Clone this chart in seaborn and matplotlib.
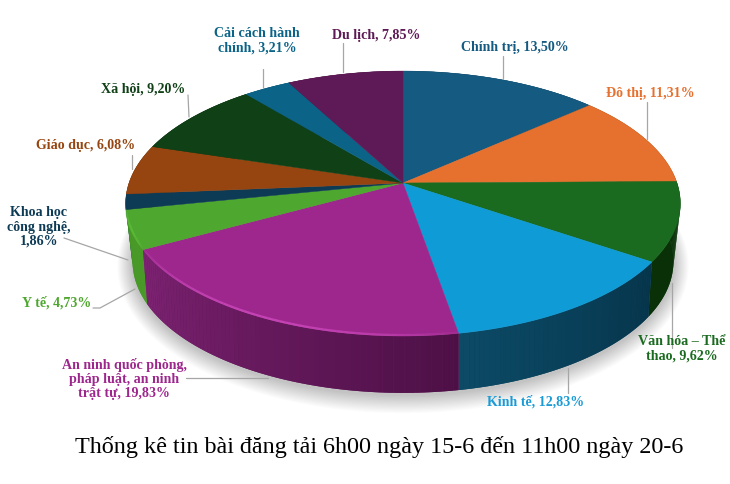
import numpy as np
import matplotlib
matplotlib.use('Agg')
import matplotlib.pyplot as plt
import seaborn as sns

# Data
labels = ['Chính trị, 13,50%', 'Đô thị, 11,31%', 'Văn hóa – Thể\nthao, 9,62%', 'Kinh tế, 12,83%',
          'An ninh quốc phòng,\npháp luật, an ninh\ntrật tự, 19,83%', 'Y tế, 4,73%',
          'Khoa học\ncông nghệ,\n1,86%', 'Giáo dục, 6,08%', 'Xã hội, 9,20%',
          'Cải cách hành\nchính, 3,21%', 'Du lịch, 7,85%']
values = [13.50, 11.31, 9.62, 12.83, 19.83, 4.73, 1.86, 6.08, 9.20, 3.21, 7.85]
title = 'Thống kê tin bài đăng tải 6h00 ngày 15-6 đến 11h00 ngày 20-6'

# Colors
top_colors = ['#155a80', '#e6702e', '#1a6a1f', '#0f9bd6', '#9e278e', '#4ea72e',
              '#0d3b56', '#974510', '#0f4016', '#0b6488', '#5e1a56']
wall_start = ['#0d3b56', '#8a4a20', '#0a3008', '#06354b', '#4d1046', '#4a9a2a',
              '#0d3b56', '#5a2a08', '#0a2a0e', '#084a66', '#3a1036']
wall_end = ['#0d3b56', '#8a4a20', '#0a3008', '#0c4a66', '#7d2272', '#469926',
            '#0d3b56', '#5a2a08', '#0a2a0e', '#084a66', '#3a1036']
text_colors = list(top_colors)
text_colors[3] = '#1a9bd6'

# Label placement in picture pixels: center of the text, then its leader line
text_pos = [(514.5, 47), (650, 93), (682, 349), (536, 402), (124, 379), (57, 303),
            (39, 227), (86, 145), (143, 90), (257, 41), (376, 35)]
leaders = [[(503, 56), (503, 79)], [(647, 102), (647, 139)], [(672, 283), (672, 348)],
           [(568, 368), (568, 393)], [(186, 378), (268, 378)], [(93, 308), (100, 308), (135, 289)],
           [(64, 238), (128, 260)], [(132, 155), (132, 169)], [(188, 95), (189, 117)],
           [(263, 69), (263, 88)], [(343, 43), (343, 72)]]

sns.set_theme(style='white')
plt.rcParams['font.family'] = ['Liberation Serif', 'DejaVu Serif']


# Perspective map of the pie disc to the picture
def top_rim(theta):
    u, v = np.sin(theta), np.cos(theta)
    w = 1 + 0.155 * v
    return 403 + 274 * u / w, 183 - 129.3 * v / w


def bottom_rim(theta, grow=0):
    u, v = np.sin(theta), np.cos(theta)
    w = 1 + 0.18 * v
    return 403 + (266 + grow) * u / w, 238 - (127 + grow) * v / w


def wall_piece(a, b, shade):
    t = np.linspace(a, b, max(int((b - a) * 60), 4))
    x1, y1 = top_rim(t)
    x2, y2 = bottom_rim(t)
    ax.fill(np.r_[x1, x2[::-1]], np.r_[y1, y2[::-1]], color=shade, lw=0, zorder=2)


fig = plt.figure(figsize=(7.3, 4.84), dpi=100)
ax = fig.add_axes([0, 0, 1, 1])
ax.set_xlim(0, 730)
ax.set_ylim(484, 0)
ax.axis('off')

edges = np.radians(np.cumsum([0] + values) / sum(values) * 360)

# Soft shadow under the pie
around = np.linspace(0, 2 * np.pi, 200)
for grow in range(1, 16):
    sx, sy = bottom_rim(around, grow)
    ax.fill(sx, sy + 2, color='black', alpha=0.016, lw=0, zorder=1)

# Side wall, back slices first: one solid base per slice, then the gradient strips on top
order = sorted(range(len(values)), key=lambda i: -np.cos((edges[i] + edges[i + 1]) / 2))
for i in order:
    mid_shade = sns.blend_palette([wall_start[i], wall_end[i]], 3)[1]
    wall_piece(edges[i], edges[i + 1], mid_shade)
    n = max(int((edges[i + 1] - edges[i]) * 60), 2)
    steps = np.linspace(edges[i], edges[i + 1], n + 1)
    shades = sns.blend_palette([wall_start[i], wall_end[i]], n)
    for j in range(n):
        wall_piece(steps[j], steps[j + 1], shades[j])

# Top face
for i in range(len(values)):
    t = np.linspace(edges[i], edges[i + 1], 80)
    x, y = top_rim(t)
    ax.fill(np.r_[403, x], np.r_[183, y], color=top_colors[i], lw=0.3, zorder=3)

# Bevel highlight on the front rim of the purple and green slices
for i, shine in [(4, '#d24cc2'), (5, '#62c63c')]:
    t = np.linspace(edges[i], edges[i + 1], 60)
    x, y = top_rim(t)
    for k in range(len(t) - 1):
        fade = np.sin(np.pi * (k + 1) / len(t)) ** 0.7
        ax.plot(x[k:k + 2], y[k:k + 2] - 1, color=shine, lw=1.6, alpha=0.75 * fade, zorder=4,
                solid_capstyle='butt')

# Leader lines and labels
for pts in leaders:
    ax.plot([p[0] for p in pts], [p[1] for p in pts], color='#a6a6a6', lw=0.9, zorder=5)
for i in range(len(labels)):
    ax.text(text_pos[i][0], text_pos[i][1], labels[i], color=text_colors[i], fontsize=10.1,
            fontweight='bold', ha='center', va='center', linespacing=1.15, zorder=6)

ax.text(379, 447, title, color='black', fontsize=17.35, ha='center', va='center', zorder=6)

fig.savefig('out.png', dpi=100)
